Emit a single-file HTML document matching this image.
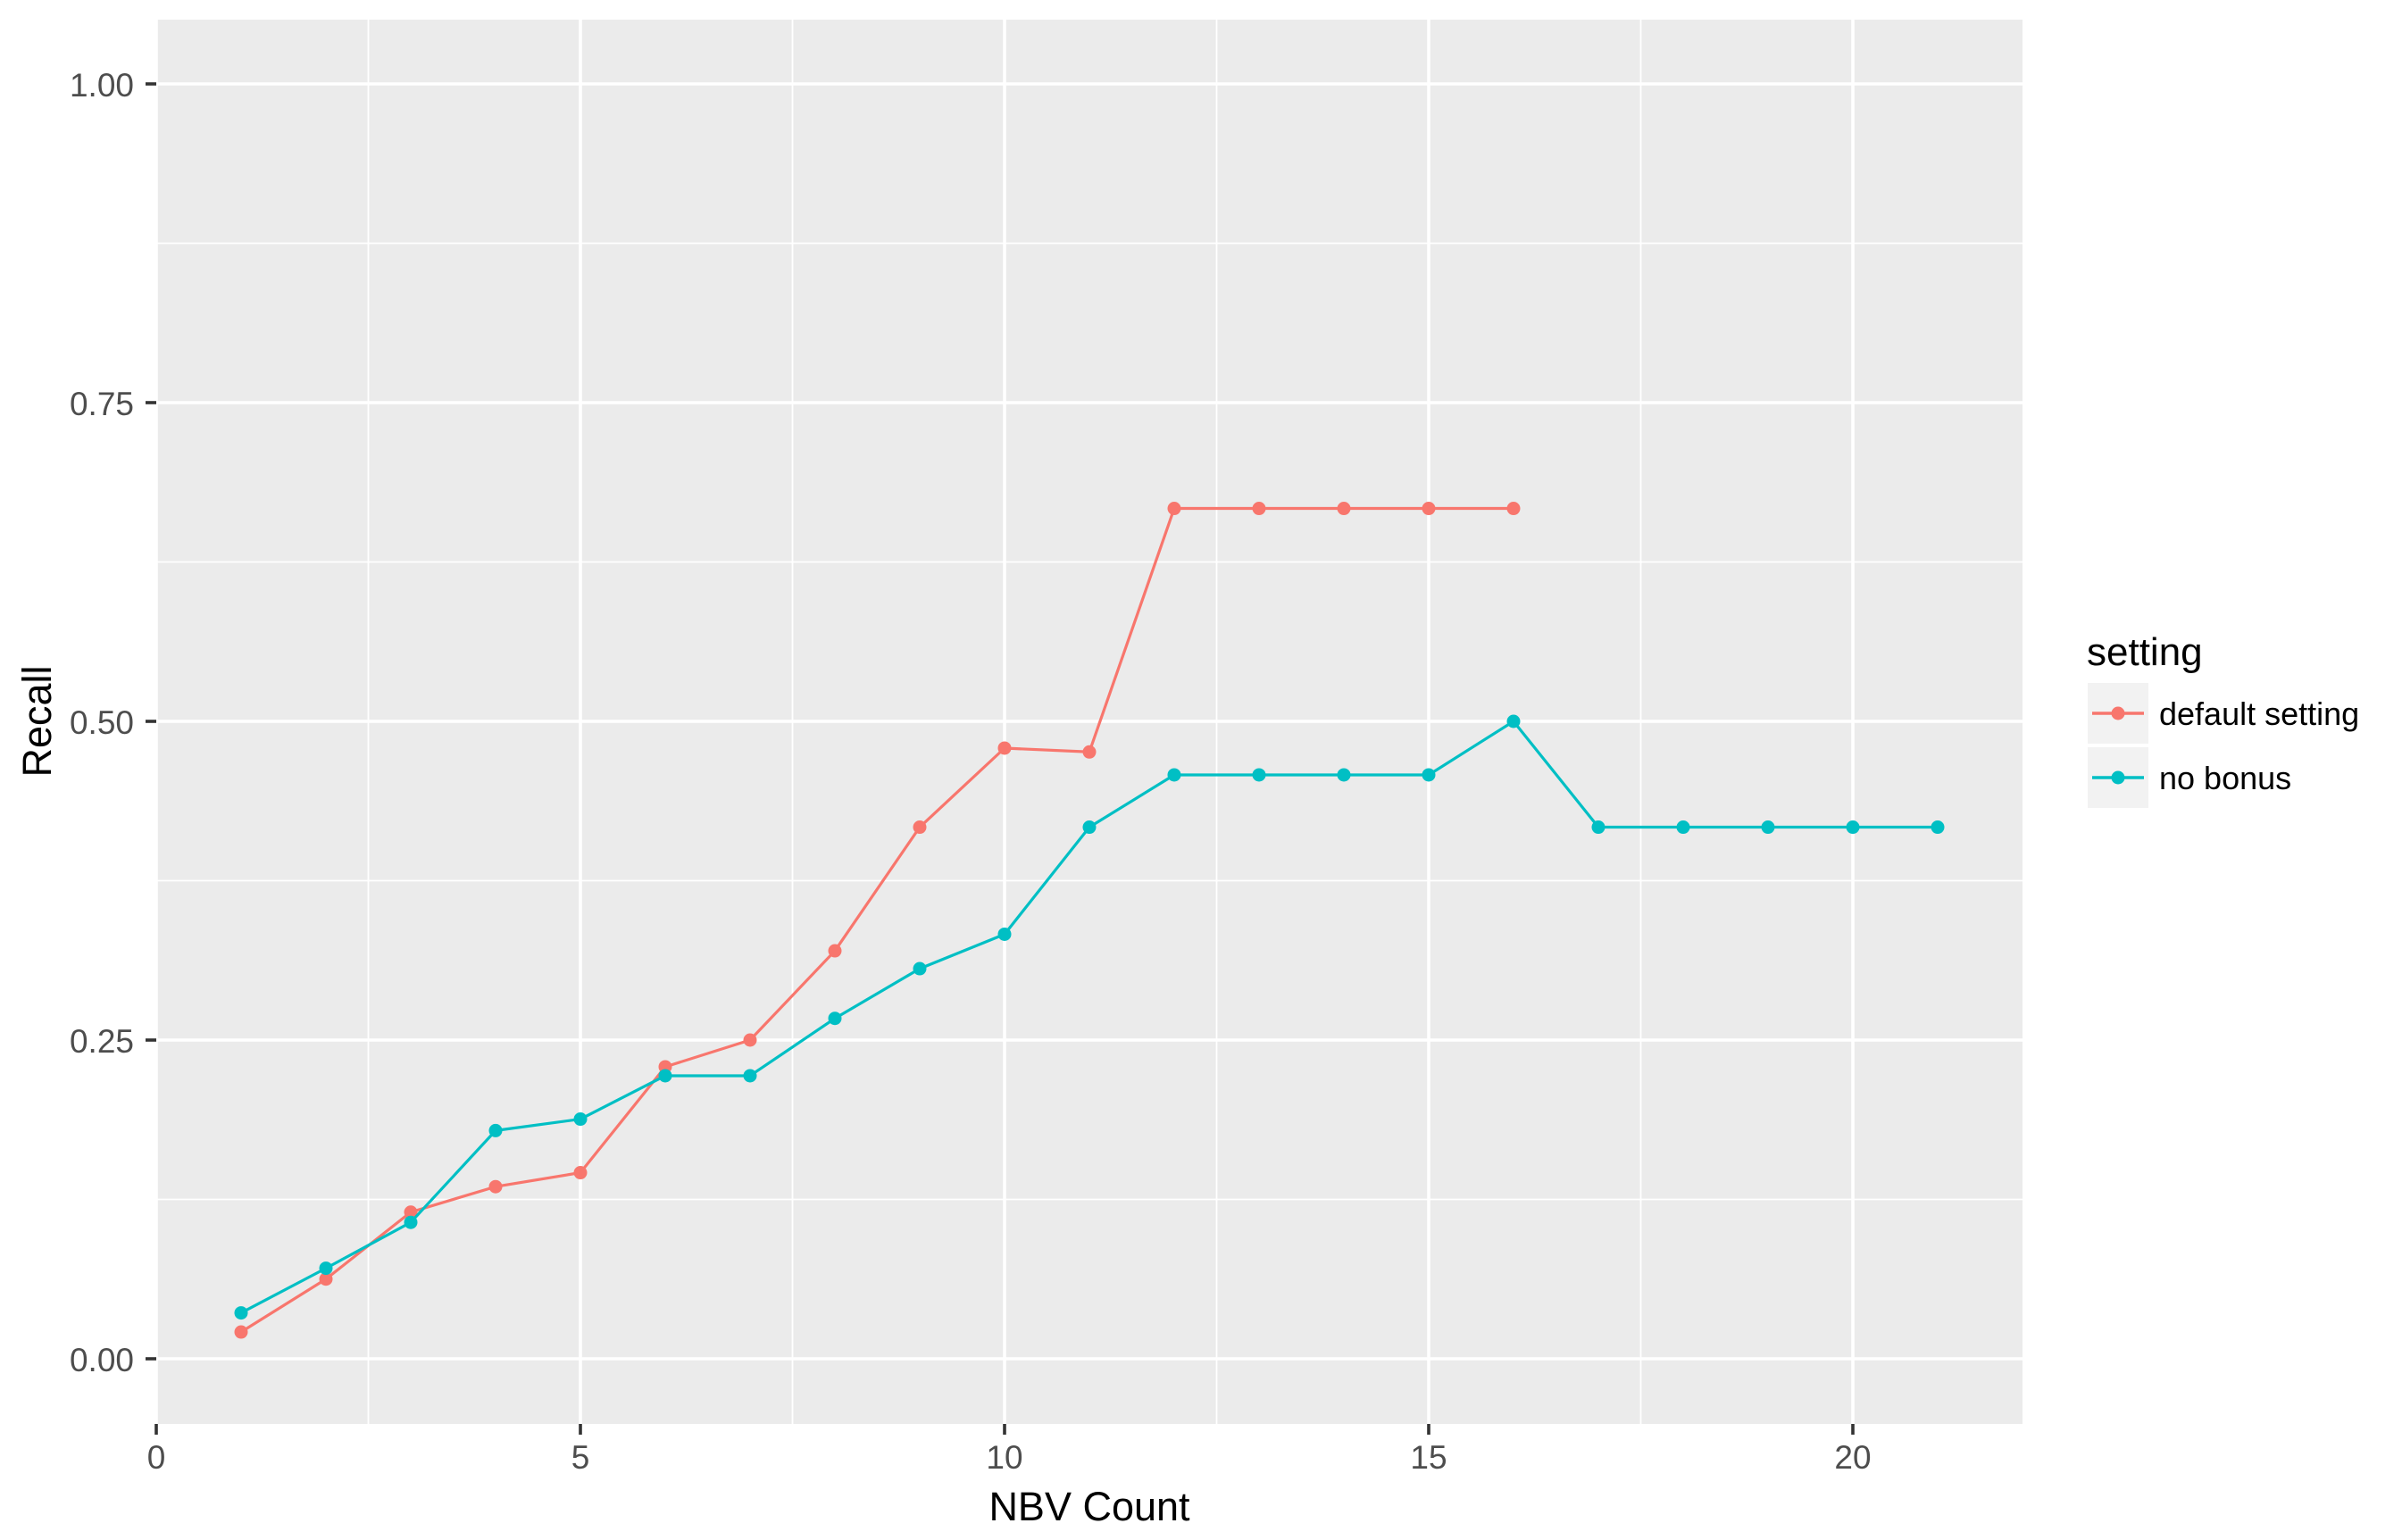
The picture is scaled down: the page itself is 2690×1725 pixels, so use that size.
<!DOCTYPE html>
<html><head><meta charset="utf-8"><style>
html,body{margin:0;padding:0;background:#fff;}
svg{display:block;font-family:"Liberation Sans",Arial,sans-serif;}
</style></head><body>
<svg id="chart" width="2690" height="1725" xmlns="http://www.w3.org/2000/svg">
<rect x="175" y="22" width="2090" height="1573" fill="#ebebeb"/>
<g id="grid"></g>
<g id="axes"></g>
<g id="series"></g>
<text x="57" y="808" transform="rotate(-90 57 808)" text-anchor="middle" font-size="45" fill="#000">Recall</text>
<text x="1220" y="1703" text-anchor="middle" font-size="45" fill="#000">NBV Count</text>
<g>
<text x="2337" y="745" font-size="44" fill="#000">setting</text>
<g>
<rect x="2338" y="765" width="68" height="68" fill="#f2f2f2"/>
<line x1="2343" y1="799" x2="2401" y2="799" stroke="#F8766D" stroke-width="3.5"/>
<circle cx="2372" cy="799" r="7.5" fill="#F8766D"/>
<text x="2418" y="812" font-size="36" fill="#000">default setting</text>
</g>
<g>
<rect x="2338" y="837" width="68" height="68" fill="#f2f2f2"/>
<line x1="2343" y1="871" x2="2401" y2="871" stroke="#00BFC4" stroke-width="3.5"/>
<circle cx="2372" cy="871" r="7.5" fill="#00BFC4"/>
<text x="2418" y="884" font-size="36" fill="#000">no bonus</text>
</g>
</g>
</svg>
<script>
const xTicks = [0, 5, 10, 15, 20];
const xTickLabels = ["0", "5", "10", "15", "20"];
const yTicks = [0, 0.25, 0.5, 0.75, 1.0];
const yTickLabels = ["0.00", "0.25", "0.50", "0.75", "1.00"];
const defaultX = [1,2,3,4,5,6,7,8,9,10,11,12,13,14,15,16];
const defaultY = [0.021,0.0625,0.115,0.135,0.146,0.229,0.25,0.32,0.417,0.479,0.476,0.667,0.667,0.667,0.667,0.667];
const noBonusX = [1,2,3,4,5,6,7,8,9,10,11,12,13,14,15,16,17,18,19,20,21];
const noBonusY = [0.036,0.071,0.107,0.179,0.188,0.222,0.222,0.267,0.306,0.333,0.417,0.458,0.458,0.458,0.458,0.5,0.417,0.417,0.417,0.417,0.417];

const NS = "http://www.w3.org/2000/svg";
const PL = 175, PR = 2265, PT = 22, PB = 1595;
function sx(v){ return PL + v * (PR - PL) / 22; }
function sy(v){ return 1522 - v * 1428; }
function mk(tag, attrs, parent){
  const e = document.createElementNS(NS, tag);
  for (const k in attrs) e.setAttribute(k, attrs[k]);
  parent.appendChild(e);
  return e;
}
const grid = document.getElementById('grid');
const axes = document.getElementById('axes');
const series = document.getElementById('series');
for (let i = 0; i < xTicks.length; i++) {
  const m = xTicks[i] + 2.5;
  if (sx(m) < PR) {
    const l = mk('line', {x1: sx(m), x2: sx(m), y1: PT, y2: PB, stroke: '#fff', 'stroke-width': 1.8}, grid);
    
    
  }
}
for (let i = 0; i < yTicks.length - 1; i++) {
  const m = (yTicks[i] + yTicks[i + 1]) / 2;
  const l = mk('line', {x1: PL, x2: PR, y1: sy(m), y2: sy(m), stroke: '#fff', 'stroke-width': 1.8}, grid);
  
  
}
xTicks.forEach((t, i) => {
  const l = mk('line', {x1: sx(t), x2: sx(t), y1: PT, y2: PB, stroke: '#fff', 'stroke-width': 3.6}, grid);
  
  
  const tk = mk('line', {x1: sx(t), x2: sx(t), y1: PB, y2: PB + 12, stroke: '#333', 'stroke-width': 3.6}, axes);
  
  
  const tx = mk('text', {x: sx(t), y: 1645, 'text-anchor': 'middle', 'font-size': 37, fill: '#4d4d4d'}, axes);
  tx.textContent = xTickLabels[i];
  
  
});
yTicks.forEach((t, i) => {
  const l = mk('line', {x1: PL, x2: PR, y1: sy(t), y2: sy(t), stroke: '#fff', 'stroke-width': 3.6}, grid);
  
  
  const tk = mk('line', {x1: PL - 12, x2: PL, y1: sy(t), y2: sy(t), stroke: '#333', 'stroke-width': 3.6}, axes);
  
  
  const tx = mk('text', {x: 150, y: sy(t) + 14, 'text-anchor': 'end', 'font-size': 37, fill: '#4d4d4d'}, axes);
  tx.textContent = yTickLabels[i];
  
  
});
function drawSeries(xs, ys, color, name){
  const g = mk('g', {}, series);
  
  
  const pts = xs.map((x, i) => sx(x) + ',' + sy(ys[i])).join(' ');
  const pl = mk('polyline', {points: pts, fill: 'none', stroke: color, 'stroke-width': 3.2, 'stroke-linejoin': 'round'}, g);
  
  
  xs.forEach((x, i) => {
    const c = mk('circle', {cx: sx(x), cy: sy(ys[i]), r: 7.5, fill: color}, g);
    
    
  });
}
drawSeries(defaultX, defaultY, '#F8766D', 'default-setting-series');
drawSeries(noBonusX, noBonusY, '#00BFC4', 'no-bonus-series');
</script>
</body></html>
